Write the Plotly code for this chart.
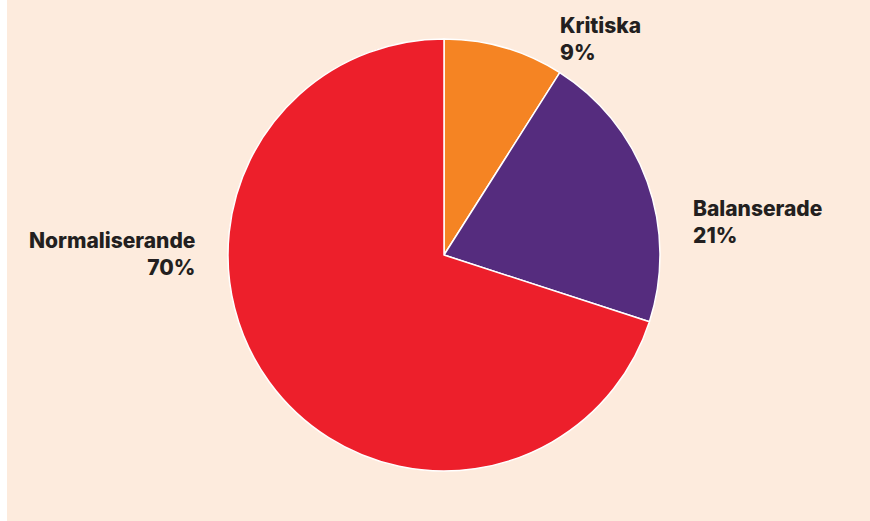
import plotly.graph_objects as go

# Data
labels = ["Kritiska", "Balanserade", "Normaliserande"]
values = [9, 21, 70]
colors = ["#f58423", "#552c7e", "#ed1f2b"]

W, H = 870, 521
BG = "#fdebdd"

# pie centre / radius in pixels
cx, cy, r = 444, 255, 216

fig = go.Figure()
fig.add_trace(
    go.Pie(
        labels=labels,
        values=values,
        sort=False,
        direction="clockwise",
        rotation=0,
        marker=dict(colors=colors, line=dict(color="#ffffff", width=1.5)),
        textinfo="none",
        hoverinfo="label+percent",
        showlegend=False,
        domain=dict(
            x=[(cx - r) / W, (cx + r) / W],
            y=[(H - cy - r) / H, (H - cy + r) / H],
        ),
    )
)

# labels outside the slices
label_pos = [
    (558, 11, "left"),
    (691, 194, "left"),
    (197, 226, "right"),
]
font = dict(family="Inter, Roboto, sans-serif", size=21, color="#231f20", weight=800)
for (name, val), (px, py, align) in zip(zip(labels, values), label_pos):
    fig.add_annotation(
        x=px / W,
        y=1 - py / H,
        xref="paper",
        yref="paper",
        xanchor=align,
        yanchor="top",
        align=align,
        text=f"{name}<br>{val}%",
        showarrow=False,
        font=font,
    )

# white strip on the left edge
fig.add_shape(
    type="rect", xref="paper", yref="paper",
    x0=0, x1=7 / W, y0=0, y1=1,
    fillcolor="#ffffff", line=dict(width=0), layer="below",
)

fig.update_layout(
    width=W,
    height=H,
    margin=dict(l=0, r=0, t=0, b=0),
    paper_bgcolor=BG,
    plot_bgcolor=BG,
)

fig.write_html(
    "out.html",
    config={"displayModeBar": False},
    post_script="document.body.style.margin='0';document.body.style.overflow='hidden';",
)
